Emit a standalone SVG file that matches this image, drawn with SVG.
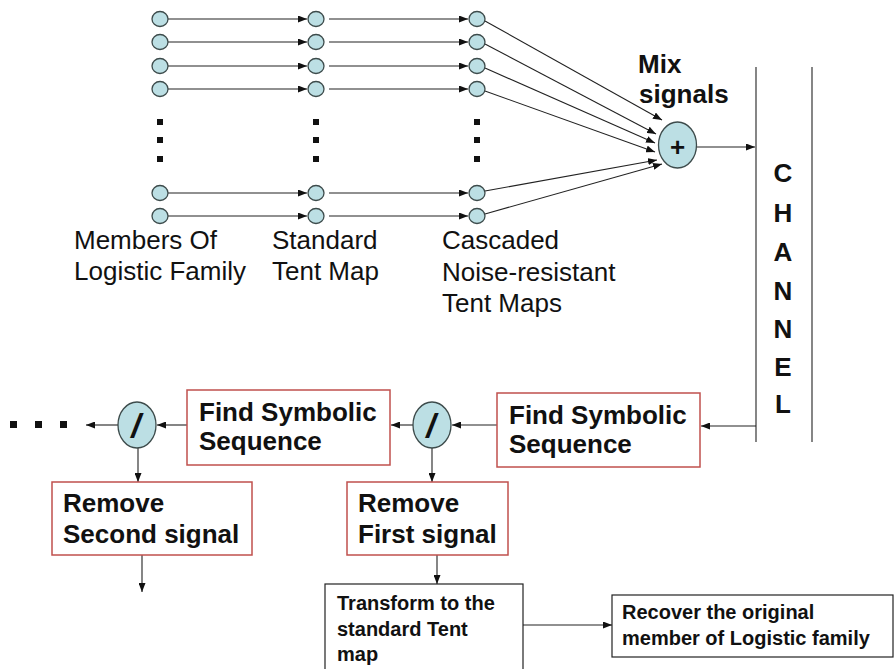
<svg xmlns="http://www.w3.org/2000/svg" width="896" height="669" viewBox="0 0 896 669">
<defs>
<marker id="ah" markerUnits="userSpaceOnUse" markerWidth="9" markerHeight="7" refX="9" refY="3.5" orient="auto"><path d="M0,0 L9,3.5 L0,7 Z" fill="#111"/></marker>
<style>
.n{fill:#bcdfe4;stroke:#3d4b4b;stroke-width:1.3}
.c{stroke:#222;stroke-width:1.1;fill:none;marker-end:url(#ah)}
.l{stroke:#222;stroke-width:1.1;fill:none}
.rb{fill:#fff;stroke:#c0504d;stroke-width:1.5}
.kb{fill:#fff;stroke:#222;stroke-width:1.2}
.t{font-family:"Liberation Sans",Arial,sans-serif;font-size:26px;fill:#111}
.b{font-family:"Liberation Sans",Arial,sans-serif;font-size:26px;font-weight:bold;fill:#111}
.s{font-family:"Liberation Sans",Arial,sans-serif;font-size:20px;font-weight:bold;fill:#111}
.sl{font-family:"Liberation Sans",Arial,sans-serif;font-size:34px;font-weight:bold;font-style:italic;fill:#111}
.d{fill:#111}
</style>
</defs>
<rect width="896" height="669" fill="#fff"/>

<g id="connectors">
<line class="c" x1="168" y1="19" x2="307" y2="19"/>
<line class="c" x1="168" y1="42" x2="307" y2="42"/>
<line class="c" x1="168" y1="66" x2="307" y2="66"/>
<line class="c" x1="168" y1="89" x2="307" y2="89"/>
<line class="c" x1="168" y1="193" x2="307" y2="193"/>
<line class="c" x1="168" y1="216" x2="307" y2="216"/>
<line class="c" x1="329" y1="19" x2="468" y2="19"/>
<line class="c" x1="329" y1="42" x2="468" y2="42"/>
<line class="c" x1="329" y1="66" x2="468" y2="66"/>
<line class="c" x1="329" y1="89" x2="468" y2="89"/>
<line class="c" x1="329" y1="193" x2="468" y2="193"/>
<line class="c" x1="329" y1="216" x2="468" y2="216"/>
<line class="c" x1="485" y1="21" x2="662" y2="120"/>
<line class="c" x1="485" y1="44" x2="656" y2="134"/>
<line class="c" x1="485" y1="68" x2="655" y2="143"/>
<line class="c" x1="485" y1="91" x2="655" y2="152"/>
<line class="c" x1="485" y1="191" x2="657" y2="160"/>
<line class="c" x1="485" y1="214" x2="662" y2="164"/>
<line class="c" x1="697" y1="147" x2="755" y2="147"/>
<line class="c" x1="756" y1="426" x2="701" y2="426"/>
<line class="c" x1="497" y1="425" x2="452" y2="425"/>
<line class="c" x1="413" y1="425" x2="391" y2="425"/>
<line class="c" x1="187" y1="425" x2="157" y2="425"/>
<line class="c" x1="118" y1="425" x2="86" y2="425"/>
<line class="c" x1="432" y1="448" x2="432" y2="482"/>
<line class="c" x1="138" y1="448" x2="138" y2="482"/>
<line class="c" x1="142" y1="555" x2="142" y2="592"/>
<line class="c" x1="437" y1="555" x2="437" y2="584"/>
<line class="c" x1="502" y1="625" x2="612" y2="625"/>
</g>

<g id="col1">
<ellipse class="n" cx="160" cy="19" rx="8" ry="7.5"/>
<ellipse class="n" cx="160" cy="42" rx="8" ry="7.5"/>
<ellipse class="n" cx="160" cy="66" rx="8" ry="7.5"/>
<ellipse class="n" cx="160" cy="89" rx="8" ry="7.5"/>
<ellipse class="n" cx="160" cy="193" rx="8" ry="7.5"/>
<ellipse class="n" cx="160" cy="216" rx="8" ry="7.5"/>
<rect class="d" x="157" y="119" width="6" height="6"/>
<rect class="d" x="157" y="137" width="6" height="6"/>
<rect class="d" x="157" y="156" width="6" height="6"/>
</g>
<g id="col2">
<ellipse class="n" cx="316" cy="19" rx="8" ry="7.5"/>
<ellipse class="n" cx="316" cy="42" rx="8" ry="7.5"/>
<ellipse class="n" cx="316" cy="66" rx="8" ry="7.5"/>
<ellipse class="n" cx="316" cy="89" rx="8" ry="7.5"/>
<ellipse class="n" cx="316" cy="193" rx="8" ry="7.5"/>
<ellipse class="n" cx="316" cy="216" rx="8" ry="7.5"/>
<rect class="d" x="313" y="119" width="6" height="6"/>
<rect class="d" x="313" y="137" width="6" height="6"/>
<rect class="d" x="313" y="156" width="6" height="6"/>
</g>
<g id="col3">
<ellipse class="n" cx="477" cy="19" rx="8" ry="7.5"/>
<ellipse class="n" cx="477" cy="42" rx="8" ry="7.5"/>
<ellipse class="n" cx="477" cy="66" rx="8" ry="7.5"/>
<ellipse class="n" cx="477" cy="89" rx="8" ry="7.5"/>
<ellipse class="n" cx="477" cy="193" rx="8" ry="7.5"/>
<ellipse class="n" cx="477" cy="216" rx="8" ry="7.5"/>
<rect class="d" x="474" y="119" width="6" height="6"/>
<rect class="d" x="474" y="137" width="6" height="6"/>
<rect class="d" x="474" y="156" width="6" height="6"/>
</g>

<g id="labels">
<text class="t" x="74" y="249">Members Of</text>
<text class="t" x="74" y="280">Logistic Family</text>
<text class="t" x="272" y="249">Standard</text>
<text class="t" x="272" y="280">Tent Map</text>
<text class="t" x="442" y="249">Cascaded</text>
<text class="t" x="442" y="281">Noise-resistant</text>
<text class="t" x="442" y="312">Tent Maps</text>
</g>

<g id="mix">
<ellipse class="n" cx="677.5" cy="145" rx="19" ry="23"/>
<text class="b" x="677.5" y="156" text-anchor="middle" font-size="32">+</text>
<text class="b" x="638" y="73">Mix</text>
<text class="b" x="639" y="103">signals</text>
</g>

<g id="channel">
<line class="l" x1="756" y1="67" x2="756" y2="442"/>
<line class="l" x1="812" y1="67" x2="812" y2="442" stroke="#555"/>
<text class="b" x="783" y="182" text-anchor="middle">C</text>
<text class="b" x="783" y="222" text-anchor="middle">H</text>
<text class="b" x="783" y="261" text-anchor="middle">A</text>
<text class="b" x="783" y="300" text-anchor="middle">N</text>
<text class="b" x="783" y="338" text-anchor="middle">N</text>
<text class="b" x="783" y="376" text-anchor="middle">E</text>
<text class="b" x="783" y="413" text-anchor="middle">L</text>
</g>

<g id="find1">
<rect class="rb" x="497" y="393" width="203" height="74"/>
<text class="b" x="509" y="424">Find Symbolic</text>
<text class="b" x="509" y="453">Sequence</text>
</g>

<g id="div1">
<ellipse class="n" cx="432" cy="425" rx="19" ry="23"/>
<text class="sl" x="431" y="437" text-anchor="middle">/</text>
</g>

<g id="find2">
<rect class="rb" x="187" y="390" width="203" height="75"/>
<text class="b" x="199" y="421">Find Symbolic</text>
<text class="b" x="199" y="450">Sequence</text>
</g>

<g id="div2">
<ellipse class="n" cx="137" cy="425" rx="19" ry="23"/>
<text class="sl" x="136" y="437" text-anchor="middle">/</text>
</g>

<g id="dots">
<rect class="d" x="10" y="421" width="7" height="7"/>
<rect class="d" x="35" y="421" width="7" height="7"/>
<rect class="d" x="60" y="421" width="7" height="7"/>
</g>

<g id="remove1">
<rect class="rb" x="347" y="482" width="161" height="73"/>
<text class="b" x="358" y="512">Remove</text>
<text class="b" x="358" y="543">First signal</text>
</g>

<g id="remove2">
<rect class="rb" x="52" y="482" width="200" height="73"/>
<text class="b" x="63" y="512">Remove</text>
<text class="b" x="63" y="543">Second signal</text>
</g>

<g id="transform">
<rect class="kb" x="325" y="584" width="198" height="90"/>
<text class="s" x="337" y="610">Transform to the</text>
<text class="s" x="337" y="636">standard Tent</text>
<text class="s" x="337" y="661">map</text>
</g>

<g id="recover">
<rect class="kb" x="612" y="595" width="281" height="62"/>
<text class="s" x="622" y="619">Recover the original</text>
<text class="s" x="622" y="645">member of Logistic family</text>
</g>
</svg>
